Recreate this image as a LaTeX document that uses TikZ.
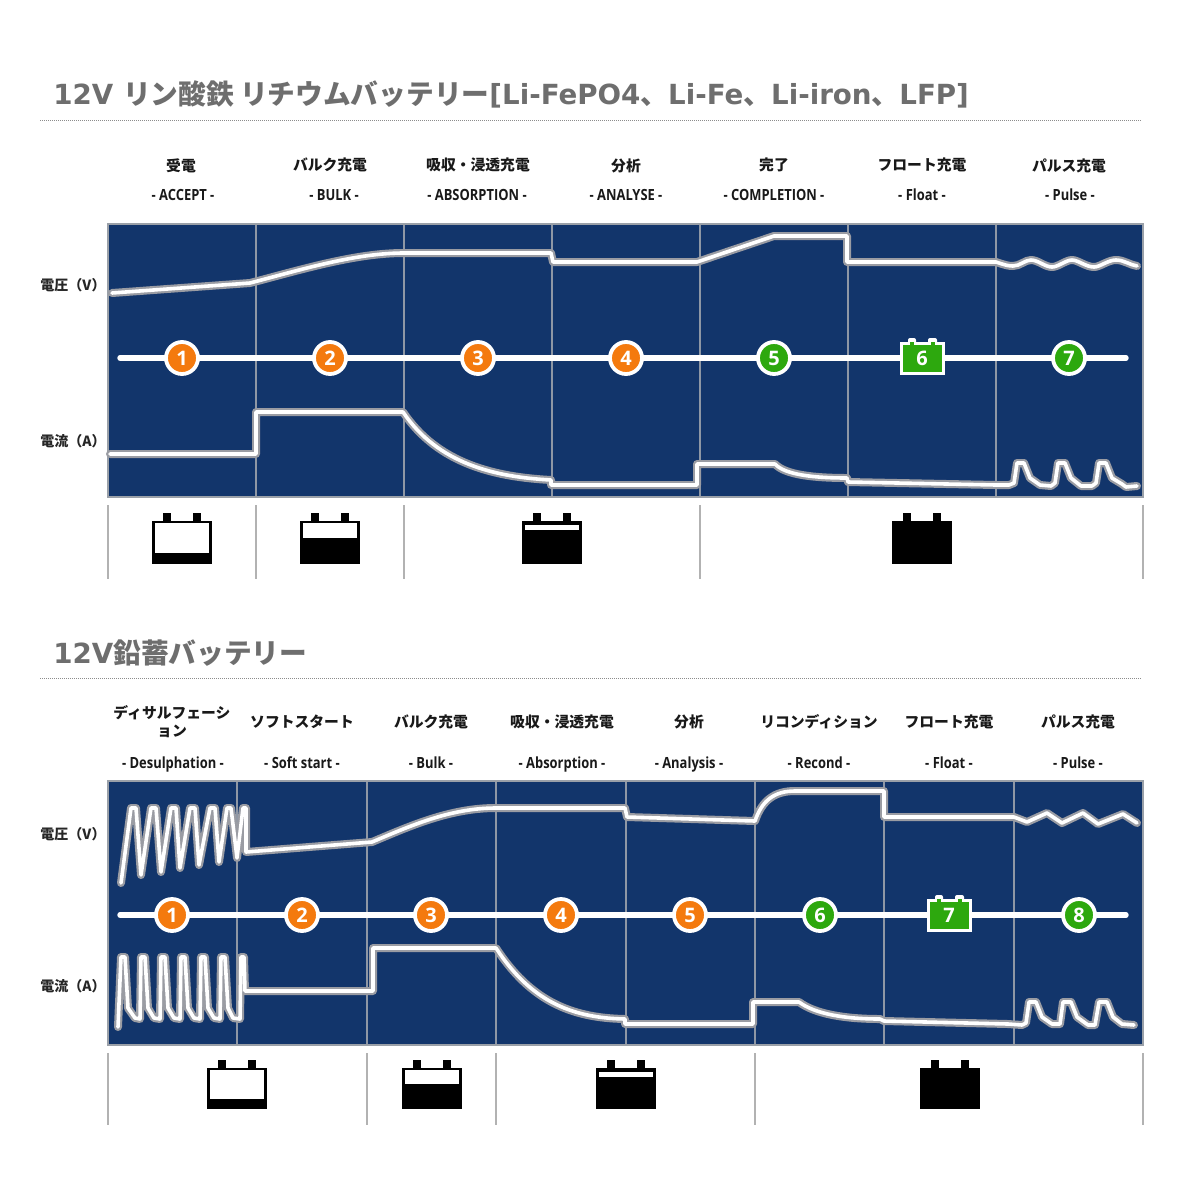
\documentclass[tikz,border=0pt]{standalone}
\usepackage{fontspec}
\setmainfont{Liberation Sans}
\newfontfamily\cjk{Noto Sans CJK JP}
\newfontfamily\ttlat{DejaVu Sans}
\newfontfamily\sublat[FakeStretch=0.84]{Open Sans}
\newfontfamily\numfont{Open Sans}
\definecolor{navy}{HTML}{12356B}
\definecolor{panelrim}{HTML}{9AA0A8}
\definecolor{divgray}{HTML}{8E97A5}
\definecolor{halo}{HTML}{9A9CA3}
\definecolor{orng}{HTML}{F47A0E}
\definecolor{grn}{HTML}{2DA80E}
\definecolor{ttlgray}{HTML}{6E6E6E}
\tikzset{
  ttl/.style={anchor=west,inner sep=0,text=ttlgray,font=\bfseries},
  jplabel/.style={inner sep=0,font=\cjk\bfseries\fontsize{7.4}{9}\selectfont,text=black!90},
  enlabel/.style={inner sep=0,anchor=base,font=\sublat\bfseries\fontsize{7.7}{9}\selectfont,text=black!90},
  sidelabel/.style={inner sep=0,font=\cjk\bfseries\fontsize{7}{8}\selectfont,text=black!85},
  numo/.style={circle,fill=orng,draw=white,line width=1.9pt,minimum size=16pt,inner sep=0,text=white,font=\numfont\bfseries\fontsize{10}{10}\selectfont},
  numg/.style={numo,fill=grn},
  numb/.style={inner sep=0,text=white,font=\numfont\bfseries\fontsize{10}{10}\selectfont},
  haloline/.style={draw=halo,line width=4pt,line join=round,line cap=round},
  coreline/.style={draw=white,line width=1.8pt,line join=round,line cap=round},
  timeline/.style={draw=white,line width=2.7pt,line cap=round},
  divline/.style={draw=divgray,line width=0.8pt},
  tickline/.style={draw=black!30,line width=0.8pt},
  dotrule/.style={draw=black!45,line width=0.45pt,dash pattern=on 0.5pt off 0.5pt},
}
\newcommand{\sigline}[1]{\draw[haloline] #1; \draw[coreline] #1;}
% solid battery: centre x, body top, body bottom
\newcommand{\battfull}[3]{%
  \fill[black] (#1-19,#2-8) rectangle (#1-11,#2+1);
  \fill[black] (#1+11,#2-8) rectangle (#1+19,#2+1);
  \fill[black] (#1-30,#2) rectangle (#1+30,#3);
}
% battery with a white window: centre x, body top, body bottom, window top, window bottom
\newcommand{\batt}[5]{%
  \battfull{#1}{#2}{#3}
  \fill[white] (#1-27,#4) rectangle (#1+27,#5);
}
% green float-stage battery around centre (x,y)
\newcommand{\gbatt}[2]{%
  \fill[white] (#1-22.5,#2-16) rectangle (#1+22.5,#2+17);
  \fill[white,rounded corners=1pt] (#1-14,#2-20) rectangle (#1-6,#2-14);
  \fill[white,rounded corners=1pt] (#1+6,#2-20) rectangle (#1+15,#2-14);
  \fill[grn] (#1-19,#2-13) rectangle (#1+20,#2+14);
  \fill[grn] (#1-12,#2-16) rectangle (#1-8,#2-13);
  \fill[grn] (#1+9,#2-16) rectangle (#1+13,#2-13);
}
\begin{document}
\begin{tikzpicture}[x=0.5pt,y=-0.5pt]
\useasboundingbox (0,0) rectangle (1200,1200);
\fill[white] (0,0) rectangle (1200,1200);

% ---------- section 1 ----------
\node[ttl] (title1) at (53,94) {\fontsize{13.85}{15}\selectfont\ttlat 12V \cjk リン酸鉄 リチウムバッテリー\ttlat [Li-FePO4\cjk 、\ttlat Li-Fe\cjk 、\ttlat Li-iron\cjk 、\ttlat LFP]};
\draw[dotrule] (40,120.5) -- (1142,120.5);

\node[jplabel] (a1) at (181,166) {受電};
\node[jplabel] (a2) at (330,165) {バルク充電};
\node[jplabel] (a3) at (478,165) {吸収・浸透充電};
\node[jplabel] (a4) at (626,166) {分析};
\node[jplabel] (a5) at (774,165) {完了};
\node[jplabel] (a6) at (922,165) {フロート充電};
\node[jplabel] (a7) at (1069,166) {パルス充電};
\node[enlabel] (b1) at (183,200.5) {- ACCEPT -};
\node[enlabel] (b2) at (334,200.5) {- BULK -};
\node[enlabel] (b3) at (477,200.5) {- ABSORPTION -};
\node[enlabel] (b4) at (626,200.5) {- ANALYSE -};
\node[enlabel] (b5) at (774,200.5) {- COMPLETION -};
\node[enlabel] (b6) at (922,200.5) {- Float -};
\node[enlabel] (b7) at (1070,200.5) {- Pulse -};
\node[sidelabel] (s1) at (73,285) {電圧（V）};
\node[sidelabel] (s2) at (73,441) {電流（A）};

\fill[navy] (108,224) rectangle (1143,497);
\foreach \x in {256,404,552,700,848,996} \draw[divline] (\x,224) -- (\x,497);
\draw[draw=panelrim,line width=0.9pt] (108,224) rectangle (1143,497);

\sigline{(112,293) -- (250,283) .. controls (300,270) and (355,253) .. (404,253) -- (551,253) -- (553,262) -- (697,262) -- (774,236) -- (847,236) -- (847,262) -- (996,262) .. controls (1005,265) and (1008,266) .. (1013,266) .. controls (1020,266) and (1025,260) .. (1031,260) .. controls (1038,260) and (1045,267) .. (1052,267) .. controls (1058,267) and (1066,260) .. (1072,260) .. controls (1078,260) and (1086,267) .. (1094,267) .. controls (1100,267) and (1108,260) .. (1116,260) .. controls (1124,260) and (1130,265) .. (1137,266)}
\sigline{(110,454) -- (256,454) -- (256,412) -- (403,412) .. controls (438,464) and (495,477) .. (551,480) -- (551,485) -- (697,485) -- (697,464) -- (775,464) .. controls (785,475) and (815,478) .. (847,478) -- (848,482) -- (996,485) -- (1009,485) -- (1014,483) -- (1017,463) -- (1024,463) -- (1030,478) -- (1040,485) -- (1051,486) -- (1055,483) -- (1058,463) -- (1065,463) -- (1071,478) -- (1081,486) -- (1092,486) -- (1096,483) -- (1099,463) -- (1106,463) -- (1112,478) -- (1122,484) -- (1126,487) -- (1137,486)}

\coordinate (t1s) at (120,358);
\coordinate (t1e) at (1126,358);
\draw[timeline] (t1s) -- (t1e);
\node[numo] (c1) at (182,358) {1};
\node[numo] (c2) at (330,358) {2};
\node[numo] (c3) at (478,358) {3};
\node[numo] (c4) at (626,358) {4};
\node[numg] (c5) at (774,358) {5};
\gbatt{922}{358}
\node[numb] (c6) at (922,358.5) {6};
\node[numg] (c7) at (1069,358) {7};

\foreach \x in {108,256,404,700,1143} \draw[tickline] (\x,505) -- (\x,579);
\batt{182}{521}{564}{523}{553}
\batt{330}{521}{564}{523}{538}
\batt{552}{521}{564}{525}{530}
\battfull{922}{521}{564}

% ---------- section 2 ----------
\node[ttl] (title2) at (53,653) {\fontsize{13.85}{15}\selectfont\ttlat 12V\cjk 鉛蓄バッテリー};
\draw[dotrule] (40,678) -- (1142,678);

\node[jplabel,align=center] (d1) at (172,722) {ディサルフェーシ\\ョン};
\node[jplabel] (d2) at (302,722) {ソフトスタート};
\node[jplabel] (d3) at (431,722) {バルク充電};
\node[jplabel] (d4) at (562,722) {吸収・浸透充電};
\node[jplabel] (d5) at (689,722) {分析};
\node[jplabel] (d6) at (819,722) {リコンディション};
\node[jplabel] (d7) at (949,722) {フロート充電};
\node[jplabel] (d8) at (1078,722) {パルス充電};
\node[enlabel] (e1) at (173,768.5) {- Desulphation -};
\node[enlabel] (e2) at (302,768.5) {- Soft start -};
\node[enlabel] (e3) at (431,768.5) {- Bulk -};
\node[enlabel] (e4) at (562,768.5) {- Absorption -};
\node[enlabel] (e5) at (689,768.5) {- Analysis -};
\node[enlabel] (e6) at (819,768.5) {- Recond -};
\node[enlabel] (e7) at (949,768.5) {- Float -};
\node[enlabel] (e8) at (1078,768.5) {- Pulse -};
\node[sidelabel] (s3) at (73,834) {電圧（V）};
\node[sidelabel] (s4) at (73,986) {電流（A）};

\fill[navy] (108,781) rectangle (1143,1045);
\foreach \x in {237,367,496,626,755,884,1014} \draw[divline] (\x,781) -- (\x,1045);
\draw[draw=panelrim,line width=0.9pt] (108,781) rectangle (1143,1045);

\sigline{(121,883) -- (131,808) -- (136,808) -- (141,875) -- (151,808) -- (156,808) -- (161,872) -- (171,808) -- (176,808) -- (180,868) -- (190,808) -- (195,808) -- (199,865) -- (210,808) -- (215,808) -- (219,862) -- (227,808) -- (231,808) -- (237,858) -- (243,808) -- (246,808) -- (246,852) -- (372,842) .. controls (410,826) and (450,808) .. (496,808) -- (625,808) -- (627,817) -- (755,821) .. controls (762,800) and (775,791) .. (795,791) -- (884,791) -- (884,817) -- (1014,817) -- (1027,822) -- (1047,813) -- (1062,823) -- (1083,813) -- (1098,824) -- (1123,814) -- (1137,823)}
\sigline{(118,1027) -- (121,957) -- (125,957) -- (128,1008) -- (135,1018) -- (140,1019) -- (141,957) -- (145,957) -- (148,1008) -- (154,1018) -- (160,1019) -- (161,957) -- (165,957) -- (168,1008) -- (174,1018) -- (180,1019) -- (181,957) -- (185,957) -- (188,1008) -- (194,1018) -- (200,1019) -- (201,957) -- (205,957) -- (208,1008) -- (214,1018) -- (220,1019) -- (221,957) -- (225,957) -- (228,1008) -- (233,1018) -- (240,1019) -- (241,957) -- (244,957) -- (245,991) -- (373,991) -- (373,948) -- (496,948) .. controls (530,1000) and (570,1018) .. (625,1019) -- (625,1024) -- (753,1024) -- (753,1002) -- (799,1002) .. controls (815,1014) and (845,1019) .. (880,1019) -- (884,1021) -- (1008,1024) -- (1022,1025) -- (1026,1023) -- (1029,1002) -- (1036,1002) -- (1042,1017) -- (1052,1024) -- (1060,1024) -- (1063,1002) -- (1071,1002) -- (1077,1017) -- (1088,1025) -- (1095,1025) -- (1099,1002) -- (1107,1002) -- (1113,1017) -- (1122,1024) -- (1134,1025)}

\coordinate (t2s) at (120,915);
\coordinate (t2e) at (1126,915);
\draw[timeline] (t2s) -- (t2e);
\node[numo] (f1) at (172,915) {1};
\node[numo] (f2) at (302,915) {2};
\node[numo] (f3) at (431,915) {3};
\node[numo] (f4) at (561,915) {4};
\node[numo] (f5) at (690,915) {5};
\node[numg] (f6) at (820,915) {6};
\gbatt{949}{915}
\node[numb] (f7) at (949,915.5) {7};
\node[numg] (f8) at (1079,915) {8};

\foreach \x in {108,367,496,755,1143} \draw[tickline] (\x,1053) -- (\x,1125);
\batt{237}{1068}{1109}{1070}{1099}
\batt{431.5}{1068}{1109}{1070}{1084}
\batt{626}{1068}{1109}{1072}{1077}
\battfull{949.5}{1068}{1109}
\end{tikzpicture}
\end{document}
